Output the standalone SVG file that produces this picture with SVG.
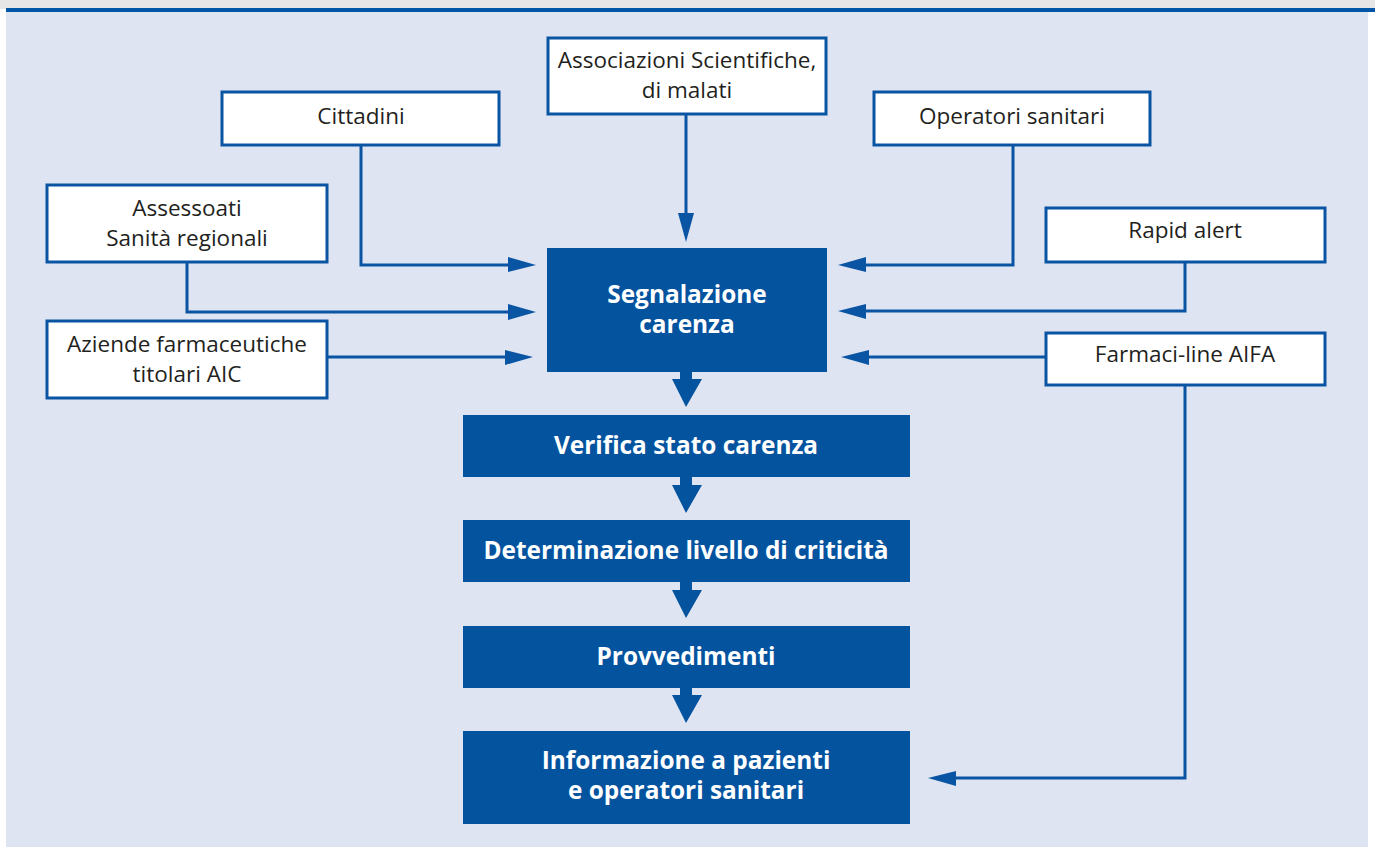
<svg xmlns="http://www.w3.org/2000/svg" width="1375" height="847" viewBox="0 0 1375 847">
<defs>
<style>
.wbox{fill:#ffffff;stroke:#0a55a3;stroke-width:3}
.bbox{fill:#04539f}
.t{font-family:"Open Sans","Liberation Sans",sans-serif;font-size:22.5px;fill:#231f20;text-anchor:middle;font-variant-ligatures:none}
.tb{font-family:"Open Sans","Liberation Sans",sans-serif;font-weight:bold;font-size:24.4px;fill:#ffffff;text-anchor:middle;font-variant-ligatures:none}
.ln{fill:none;stroke:#0a55a3;stroke-width:3}
.ah{fill:#0a55a3}
.ba{fill:#04539f}
</style>
</defs>
<rect x="0" y="0" width="1375" height="847" fill="#ffffff"/>
<rect x="0" y="0" width="1375" height="9" fill="#e6e6e6"/>
<rect x="6" y="11" width="1362" height="836" fill="#dfe4f2"/>
<rect x="6" y="8" width="1369" height="4" fill="#0055a4"/>

<g id="connectors">
<polyline class="ln" points="361,145 361,265 510,265"/>
<polygon class="ah" points="508,257 536,265 508,272"/>
<polyline class="ln" points="187,262 187,312 510,312"/>
<polygon class="ah" points="508,304 536,312 508,320"/>
<polyline class="ln" points="327,357 507,357"/>
<polygon class="ah" points="505,350 533,357 505,365"/>
<polyline class="ln" points="686,114 686,215"/>
<polygon class="ah" points="678,213 686,242 694,213"/>
<polyline class="ln" points="1013,145 1013,265 864,265"/>
<polygon class="ah" points="866,257 838,265 866,272"/>
<polyline class="ln" points="1185,262 1185,311 864,311"/>
<polygon class="ah" points="866,304 838,311 866,319"/>
<polyline class="ln" points="1046,357 867,357"/>
<polygon class="ah" points="869,350 841,357 869,365"/>
<polyline class="ln" points="1185,385 1185,778 954,778"/>
<polygon class="ah" points="956,771 928,778 956,786"/>
<polygon class="ba" points="680,371 692,371 692,379 702,379 686,407 672,379 680,379"/>
<polygon class="ba" points="680,476 692,476 692,485 702,485 686,513 672,485 680,485"/>
<polygon class="ba" points="680,581 692,581 692,590 702,590 686,618 672,590 680,590"/>
<polygon class="ba" points="680,687 692,687 692,695 702,695 686,723 672,695 680,695"/>
</g>

<g id="n-associazioni">
<rect class="wbox" x="548" y="38" width="278" height="76"/>
<text class="t" x="687" y="68">Associazioni Scientifiche,</text>
<text class="t" x="687" y="98">di malati</text>
</g>
<g id="n-cittadini">
<rect class="wbox" x="222" y="92" width="277" height="53"/>
<text class="t" x="361" y="124">Cittadini</text>
</g>
<g id="n-operatori">
<rect class="wbox" x="874" y="92" width="276" height="53"/>
<text class="t" x="1012" y="124">Operatori sanitari</text>
</g>
<g id="n-assessorati">
<rect class="wbox" x="47" y="185" width="280" height="77"/>
<text class="t" x="187" y="216">Assessoati</text>
<text class="t" x="187" y="246">Sanità regionali</text>
</g>
<g id="n-aziende">
<rect class="wbox" x="47" y="321" width="280" height="77"/>
<text class="t" x="187" y="352">Aziende farmaceutiche</text>
<text class="t" x="187" y="382">titolari AIC</text>
</g>
<g id="n-rapid">
<rect class="wbox" x="1046" y="208" width="279" height="54"/>
<text class="t" x="1185" y="238">Rapid alert</text>
</g>
<g id="n-farmaci">
<rect class="wbox" x="1046" y="333" width="279" height="52"/>
<text class="t" x="1185" y="362">Farmaci-line AIFA</text>
</g>

<g id="n-segnalazione">
<rect class="bbox" x="547" y="248" width="280" height="124"/>
<text class="tb" x="687" y="303">Segnalazione</text>
<text class="tb" x="687" y="333">carenza</text>
</g>
<g id="n-verifica">
<rect class="bbox" x="463" y="415" width="447" height="62"/>
<text class="tb" x="686" y="454">Verifica stato carenza</text>
</g>
<g id="n-determinazione">
<rect class="bbox" x="463" y="520" width="447" height="62"/>
<text class="tb" x="686" y="559">Determinazione livello di criticità</text>
</g>
<g id="n-provvedimenti">
<rect class="bbox" x="463" y="626" width="447" height="62"/>
<text class="tb" x="686" y="665">Provvedimenti</text>
</g>
<g id="n-informazione">
<rect class="bbox" x="463" y="731" width="447" height="93"/>
<text class="tb" x="686" y="769">Informazione a pazienti</text>
<text class="tb" x="686" y="799">e operatori sanitari</text>
</g>
</svg>
